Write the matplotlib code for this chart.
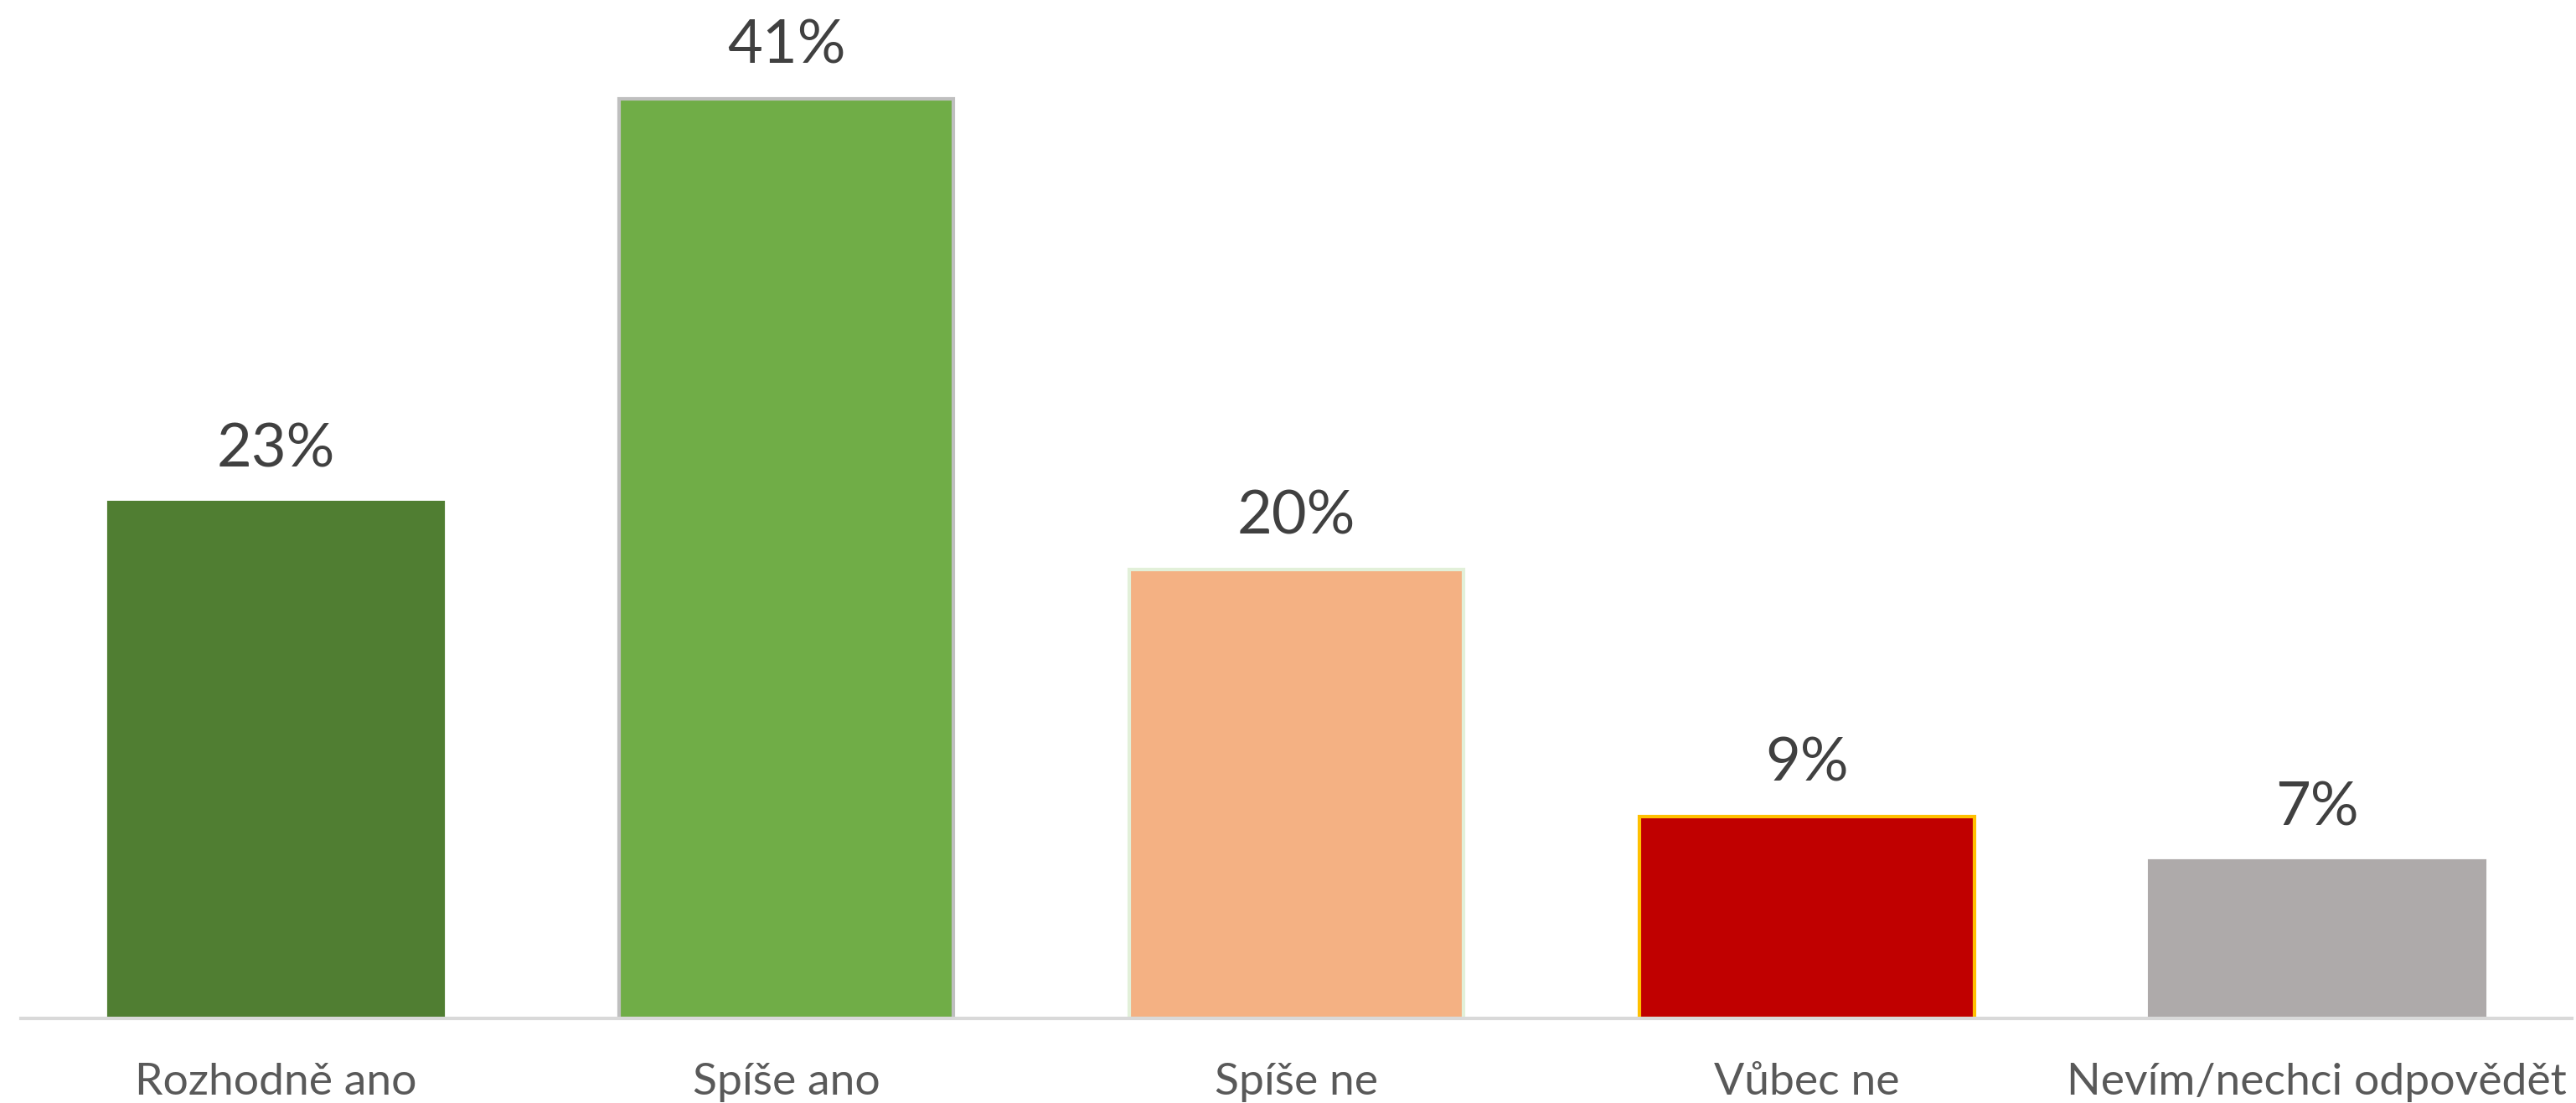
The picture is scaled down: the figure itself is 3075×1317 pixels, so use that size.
import matplotlib
matplotlib.use("Agg")
import matplotlib.pyplot as plt

categories = ["Rozhodně ano", "Spíše ano", "Spíše ne", "Vůbec ne", "Nevím/nechci odpovědět"]
values = [23, 41, 20, 9, 7]
labels = ["23%", "41%", "20%", "9%", "7%"]
colors = ["#507e32", "#70ad47", "#f4b183", "#c00000", "#aeaaaa"]
edges = ["#507e32", "#bfbfbf", "#e2f0d9", "#ffc000", "#aeaaaa"]

plt.rcParams['font.family'] = ['Lato', 'DejaVu Sans']

fig = plt.figure(figsize=(30.75, 13.17), dpi=100)
ax = fig.add_axes([0.0081, 0.0767, 0.9904, 0.9233])

x = range(len(categories))
bars = ax.bar(x, values, width=0.656, color=colors, edgecolor=edges, linewidth=3)

for b, lab in zip(bars, labels):
    ax.annotate(lab, (b.get_x() + b.get_width() / 2, b.get_height()),
                xytext=(0, 22), textcoords="offset points",
                ha="center", va="bottom", fontsize=52, color="#404040")

ax.set_xlim(-0.5, 4.5)
ax.set_ylim(0, 45.4)
ax.set_xticks(list(x))
ax.set_xticklabels(categories, fontsize=38.5, color="#595959")
ax.tick_params(axis="x", length=0, pad=38)
ax.set_yticks([])
for s in ["top", "right", "left"]:
    ax.spines[s].set_visible(False)
ax.spines["bottom"].set_color("#d9d9d9")
ax.spines["bottom"].set_linewidth(3)

fig.savefig("out.png", dpi=100, facecolor="white")
